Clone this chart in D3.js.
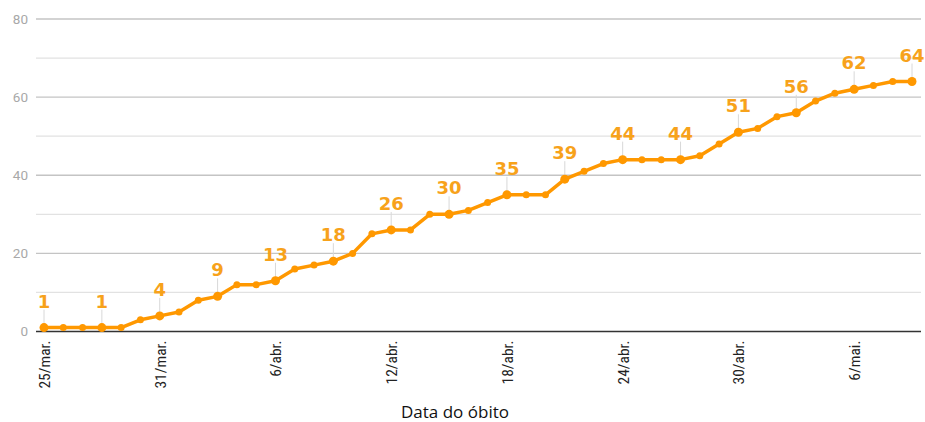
<!DOCTYPE html>
<html>
<head>
<meta charset="utf-8">
<script src="https://cdn.jsdelivr.net/npm/d3@7"></script>
<style>
  body { margin: 0; background: #fff; }
</style>
</head>
<body>
<div id="chart"></div>
<script>
// Cumulative deaths by date of death, 25/mar to 9/mai
var startDate = "2020-03-25";
var deaths = [1, 1, 1, 1, 1, 3, 4, 5, 8, 9, 12, 12, 13, 16, 17, 18, 20, 25, 26, 26,
  30, 30, 31, 33, 35, 35, 35, 39, 41, 43, 44, 44, 44, 44, 45, 48, 51, 52, 55, 56,
  59, 61, 62, 63, 64, 64];
var yTicks = [0, 10, 20, 30, 40, 50, 60, 70, 80];
var monthNames = ["jan.", "fev.", "mar.", "abr.", "mai.", "jun."];
var labelEvery = 3;   // a value label every 3 days
var tickEvery = 6;    // a date tick every 6 days

var svgWidth = 925;
var svgHeight = 422;

var parseDate = d3.timeParse("%Y-%m-%d");
var firstDay = parseDate(startDate);

var data = deaths.map(function(v, i) {
  return { date: d3.timeDay.offset(firstDay, i), value: v, i: i };
});

var svg = d3.select("#chart")
  .append("svg")
  .attr("width", svgWidth)
  .attr("height", svgHeight);

// scales
var xScale = d3.scaleTime()
  .domain(d3.extent(data, d => d.date))
  .range([44, 912]);

var yScale = d3.scaleLinear()
  .domain([0, 80])
  .range([331.5, 19]);

// gridlines
svg.append("g")
  .selectAll("line")
  .data(yTicks.filter(t => t > 0))
  .enter()
  .append("line")
  .attr("x1", 36)
  .attr("x2", 921)
  .attr("y1", d => yScale(d))
  .attr("y2", d => yScale(d))
  .attr("stroke", d => d % 20 === 0 ? "#c4c4c4" : "#e2e2e2")
  .attr("stroke-width", 1.3);

// y axis labels
var leftAxis = d3.axisLeft(yScale)
  .tickValues(yTicks.filter(t => t % 20 === 0))
  .tickSize(0)
  .tickPadding(0);

var yAxisGroup = svg.append("g")
  .attr("transform", "translate(28,0)")
  .call(leftAxis);
yAxisGroup.select(".domain").remove();
yAxisGroup.selectAll("text")
  .attr("fill", "#a8a8a8")
  .attr("font-family", "Roboto, sans-serif")
  .attr("font-size", 13.5);

// x axis
var tickDates = data.filter(d => d.i % tickEvery === 0).map(d => d.date);
var bottomAxis = d3.axisBottom(xScale)
  .tickValues(tickDates)
  .tickSize(0)
  .tickFormat(d => d.getDate() + "/" + monthNames[d.getMonth()]);

var xAxisGroup = svg.append("g")
  .attr("transform", `translate(0, ${yScale(0)})`)
  .call(bottomAxis);
xAxisGroup.select(".domain").remove();
xAxisGroup.selectAll("text")
  .attr("transform", "rotate(-90)")
  .attr("text-anchor", "end")
  .attr("dy", "0.35em")
  .attr("x", -9)
  .attr("y", 0)
  .attr("fill", "#222")
  .attr("font-family", "'Roboto Condensed', 'Liberation Sans Narrow', 'Roboto', sans-serif")
  .attr("font-stretch", "condensed")
  .attr("font-size", 15.5);

// zero baseline
svg.append("line")
  .attr("x1", 36)
  .attr("x2", 921)
  .attr("y1", yScale(0))
  .attr("y2", yScale(0))
  .attr("stroke", "#333")
  .attr("stroke-width", 1.5);

// leader lines for labelled points
var labelled = data.filter(d => d.i % labelEvery === 0);

svg.append("g")
  .selectAll("line")
  .data(labelled)
  .enter()
  .append("line")
  .attr("x1", d => xScale(d.date))
  .attr("x2", d => xScale(d.date))
  .attr("y1", d => yScale(d.value) - 18)
  .attr("y2", d => yScale(d.value))
  .attr("stroke", "#d8d8d8")
  .attr("stroke-width", 1);

// the line
var line = d3.line()
  .x(d => xScale(d.date))
  .y(d => yScale(d.value));

svg.append("path")
  .datum(data)
  .attr("d", line)
  .attr("fill", "none")
  .attr("stroke", "#ff9800")
  .attr("stroke-width", 3.5)
  .attr("stroke-linejoin", "round");

svg.append("g")
  .selectAll("circle")
  .data(data)
  .enter()
  .append("circle")
  .attr("cx", d => xScale(d.date))
  .attr("cy", d => yScale(d.value))
  .attr("r", d => d.i % labelEvery === 0 ? 4.5 : 3.5)
  .attr("fill", "#ff9800");

// value labels
svg.append("g")
  .selectAll("text")
  .data(labelled)
  .enter()
  .append("text")
  .attr("x", d => xScale(d.date))
  .attr("y", d => yScale(d.value) - 20)
  .attr("text-anchor", "middle")
  .attr("fill", "#f7a21b")
  .attr("font-family", "'DejaVu Sans', sans-serif")
  .attr("font-weight", "bold")
  .attr("font-size", 18)
  .text(d => d.value);

// axis title
svg.append("text")
  .attr("x", 455)
  .attr("y", 418)
  .attr("text-anchor", "middle")
  .attr("fill", "#111")
  .attr("font-family", "'Open Sans', sans-serif")
  .attr("font-size", 17)
  .text("Data do óbito");
</script>
</body>
</html>
